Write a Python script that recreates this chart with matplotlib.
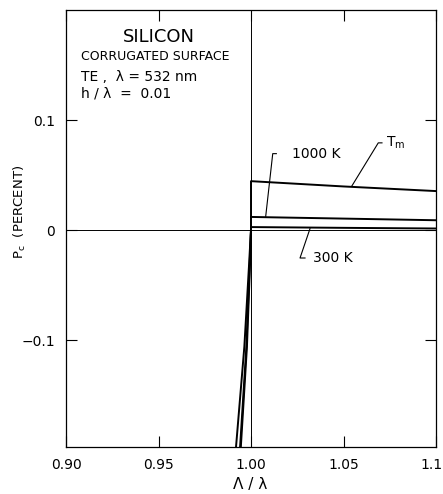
import matplotlib.pyplot as plt

# P_c vs grating period for silicon, three temperatures
x_tm = [0.9919, 0.9964, 0.9990, 0.9998, 1.0, 1.0, 1.05, 1.10]
y_tm = [-0.197, -0.106, -0.030, -0.005, 0.0, 0.0445, 0.0397, 0.0355]

x_1000 = [0.9941, 0.9975, 0.9993, 1.0, 1.0, 1.05, 1.10]
y_1000 = [-0.197, -0.106, -0.030, 0.0, 0.0120, 0.0105, 0.0090]

x_300 = [0.9945, 0.9978, 0.9995, 1.0, 1.0, 1.05, 1.10]
y_300 = [-0.197, -0.106, -0.030, 0.0, 0.0028, 0.0021, 0.0015]

xticks = [0.90, 0.95, 1.00, 1.05, 1.10]
xticklabels = ["0.90", "0.95", "1.00", "1.05", "1.10"]
yticks = [-0.1, 0.0, 0.1]
yticklabels = ["\u22120.1", "0", "0.1"]

W, H = 443, 494
fig = plt.figure(figsize=(W / 100, H / 100), dpi=100)
ax = fig.add_axes([66 / W, 1 - 447 / H, (436 - 66) / W, (447 - 10) / H])

ax.axhline(0, color="black", lw=0.7)
ax.axvline(1.0, color="black", lw=0.7)

for xs, ys in [(x_tm, y_tm), (x_1000, y_1000), (x_300, y_300)]:
    ax.plot(xs, ys, color="black", lw=1.4)

ax.set_xlim(0.90, 1.10)
ax.set_ylim(-0.197, 0.2)
ax.set_xticks(xticks)
ax.set_xticklabels(xticklabels)
ax.set_yticks(yticks)
ax.set_yticklabels(yticklabels)
ax.tick_params(direction="in", length=8, width=0.8, labelsize=10, pad=8,
               top=True, right=True)
for s in ax.spines.values():
    s.set_linewidth(0.9)

# leader lines for the curve labels
ax.plot([1.0137, 1.01175, 1.00795], [0.0695, 0.0695, 0.01255], color="black", lw=0.8)
ax.text(1.0222, 0.0695, "1000 K", fontsize=10, va="center", ha="left")

ax.plot([1.0708, 1.0688, 1.0544], [0.0793, 0.0793, 0.0398], color="black", lw=0.8)
ax.text(1.0728, 0.0793, "T$_\\mathregular{m}$", fontsize=10, va="center", ha="left")

ax.plot([1.0319, 1.0265, 1.0292], [0.0014, -0.0253, -0.0253], color="black", lw=0.8)
ax.text(1.0335, -0.0253, "300 K", fontsize=10, va="center", ha="left")

fig.text(250 / W, 1 - 484 / H, "\u039b / \u03bb", fontsize=11, ha="center", va="center")
fig.text(20 / W, 1 - 212 / H, "P$_\\mathregular{c}$  (PERCENT)", rotation=90,
         fontsize=9.5, ha="center", va="center")

fig.text(159 / W, 1 - 37 / H, "SILICON", fontsize=13, ha="center", va="center")
fig.text(81 / W, 1 - 57 / H, "CORRUGATED SURFACE", fontsize=9, ha="left", va="center")
fig.text(81 / W, 1 - 77 / H, "TE ,  \u03bb = 532 nm", fontsize=10, ha="left", va="center")
fig.text(81 / W, 1 - 93 / H, "h / \u03bb  =  0.01", fontsize=10, ha="left", va="center")

fig.savefig("out.png", dpi=100)
